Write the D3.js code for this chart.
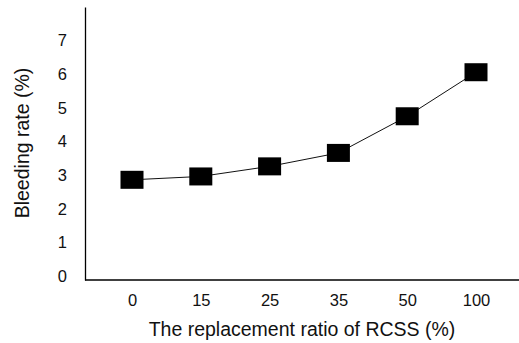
<!DOCTYPE html>
<html>
<head>
<meta charset="utf-8">
<script src="https://cdn.jsdelivr.net/npm/d3@7"></script>
<style>
  html, body { margin: 0; padding: 0; background: #fff; }
  svg { display: block; font-family: "Liberation Sans", Arial, sans-serif; }
</style>
</head>
<body>
<svg id="chart" width="519" height="343"></svg>
<script>
const categories = ["0", "15", "25", "35", "50", "100"];
const bleedingRate = [2.86, 2.96, 3.26, 3.66, 4.75, 6.06];
const yTicks = [0, 1, 2, 3, 4, 5, 6, 7];
const xTitle = "The replacement ratio of RCSS (%)";
const yTitle = "Bleeding rate (%)";

(function () {
const svg = d3.select("#chart");
const mLeft = 85, mRight = 519, mTop = 7, mBottom = 280;

const x = d3.scalePoint().domain(categories).range([132, 476]);
const y = d3.scaleLinear().domain([-0.12, 8]).range([mBottom, mTop]);

// y axis
const yAxis = svg.append("g")
  .attr("transform", `translate(${mLeft},0)`)
  .call(d3.axisLeft(y).tickValues(yTicks).tickSize(0).tickSizeOuter(0).tickPadding(18).tickFormat(d3.format("d")));
yAxis.select(".domain").attr("stroke", "#000").attr("stroke-width", 1.3);
yAxis.selectAll("text").attr("font-size", 16.5).attr("fill", "#111").attr("font-family", "Liberation Sans, Arial, sans-serif");

// x axis
const xAxis = svg.append("g")
  .attr("transform", `translate(0,${mBottom})`)
  .call(d3.axisBottom(x).tickSize(0).tickPadding(14));
xAxis.select(".domain").remove();
xAxis.selectAll("text").attr("font-size", 16.5).attr("fill", "#111").attr("font-family", "Liberation Sans, Arial, sans-serif");
svg.append("line")
  .attr("x1", mLeft).attr("x2", mRight)
  .attr("y1", mBottom).attr("y2", mBottom)
  .attr("stroke", "#000").attr("stroke-width", 1.3);

// line
const data = categories.map((c, i) => ({c, v: bleedingRate[i]}));
svg.append("path")
  .datum(data)
  .attr("fill", "none")
  .attr("stroke", "#111")
  .attr("stroke-width", 1)
  .attr("d", d3.line().x(d => x(d.c)).y(d => y(d.v)));

// markers
const mw = 23, mh = 18;
svg.selectAll("rect.marker")
  .data(data)
  .join("rect")
  .attr("class", "marker")
  .attr("x", d => x(d.c) - mw / 2)
  .attr("y", d => y(d.v) - mh / 2)
  .attr("width", mw)
  .attr("height", mh)
  .attr("fill", "#000");

// titles
svg.append("text")
  .attr("x", 302).attr("y", 329)
  .attr("text-anchor", "middle")
  .attr("dominant-baseline", "central")
  .attr("font-size", 19.5)
  .attr("fill", "#111")
  .text(xTitle);

svg.append("text")
  .attr("transform", "translate(22,143) rotate(-90)")
  .attr("text-anchor", "middle")
  .attr("dominant-baseline", "central")
  .attr("font-size", 19.5)
  .attr("fill", "#111")
  .text(yTitle);
})();
</script>
</body>
</html>
